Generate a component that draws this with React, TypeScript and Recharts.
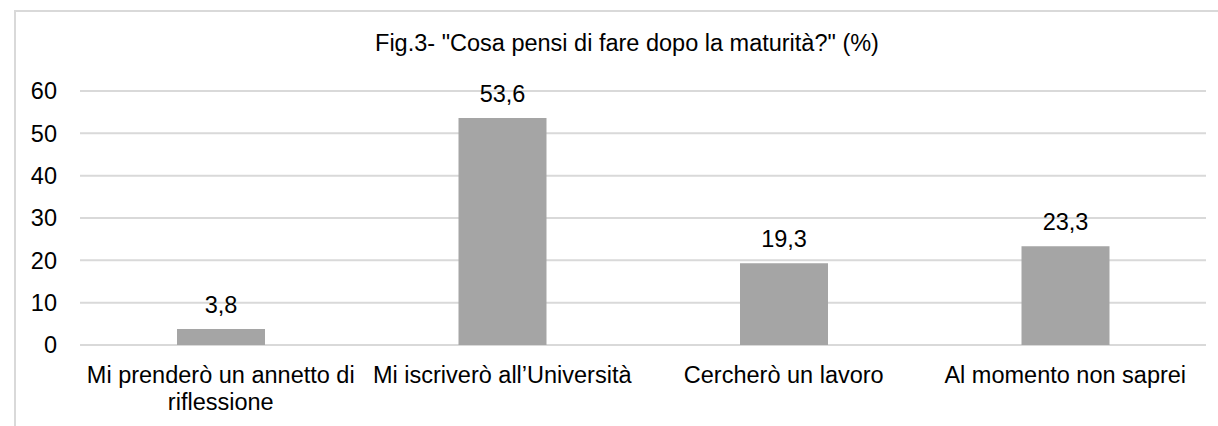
import React from 'react';
import { BarChart, Bar, XAxis, YAxis, CartesianGrid, LabelList } from 'recharts';

const title = 'Fig.3- "Cosa pensi di fare dopo la maturità?" (%)';
const categories = [
  'Mi prenderò un annetto di riflessione',
  'Mi iscriverò all’Università',
  'Cercherò un lavoro',
  'Al momento non saprei',
];
const values = [3.8, 53.6, 19.3, 23.3];
const yTicks = [0, 10, 20, 30, 40, 50, 60];

const data = categories.map((name, i) => ({ name, value: values[i] }));

const FONT = '"Liberation Sans", Arial, sans-serif';
const FS = 23.5;
const MAX_W = 282;

let ctx: CanvasRenderingContext2D | null = null;
function measure(s: string): number {
  if (!ctx) {
    const c = document.createElement('canvas');
    ctx = c.getContext('2d');
  }
  if (!ctx) return s.length * FS * 0.5;
  ctx.font = `${FS}px "Liberation Sans", Arial, sans-serif`;
  return ctx.measureText(s).width;
}

function wrap(label: string): string[] {
  const words = label.split(' ');
  const lines: string[] = [];
  let cur = '';
  for (const w of words) {
    const test = cur ? cur + ' ' + w : w;
    if (cur && measure(test) > MAX_W) {
      lines.push(cur);
      cur = w;
    } else {
      cur = test;
    }
  }
  if (cur) lines.push(cur);
  return lines;
}

const XTick = (props: any) => {
  const { x, y, payload } = props;
  const lines = wrap(String(payload.value));
  return (
    <text
      x={x}
      y={y}
      textAnchor="middle"
      fill="#000"
      fontSize={FS}
      fontFamily={FONT}
    >
      {lines.map((l, i) => (
        <tspan key={i} x={x} dy={i === 0 ? 19 : 26.5}>
          {l}
        </tspan>
      ))}
    </text>
  );
};

export default function App() {
  return (
    <div style={{ position: 'absolute', left: 0, top: 0, width: 1218, height: 426, overflow: 'hidden', background: '#fff' }}>
      <div
        style={{
          position: 'absolute',
          left: 14,
          top: 10,
          width: 1300,
          height: 500,
          border: '2px solid #d9d9d9',
          boxSizing: 'border-box',
        }}
      />
      <svg width={1218} height={426} style={{ position: 'absolute', left: 0, top: 0 }}>
        <text x={627} y={51} textAnchor="middle" fontSize={FS} fontFamily={FONT} fill="#000">
          {title}
        </text>
      </svg>
      <div style={{ position: 'absolute', left: 0, top: 0 }}>
        <BarChart
          width={1218}
          height={426}
          data={data}
          margin={{ top: 91, right: 12, bottom: 0, left: 0 }}
          barCategoryGap={0}
        >
          <CartesianGrid vertical={false} stroke="#d9d9d9" strokeWidth={2} />
          <XAxis
            dataKey="name"
            axisLine={false}
            tickLine={false}
            height={81}
            tickMargin={13}
            interval={0}
            tick={<XTick />}
          />
          <YAxis
            domain={[0, 60]}
            ticks={yTicks}
            axisLine={false}
            tickLine={false}
            width={80}
            tickMargin={17}
            tick={{ fontSize: FS, fontFamily: FONT, fill: '#000' }}
          />
          <Bar dataKey="value" fill="#a5a5a5" barSize={88} isAnimationActive={false}>
            <LabelList
              dataKey="value"
              position="top"
              offset={16}
              formatter={(v: any) => Number(v).toFixed(1).replace('.', ',')}
              style={{ fontSize: FS, fontFamily: FONT, fill: '#000' }}
            />
          </Bar>
        </BarChart>
      </div>
    </div>
  );
}
